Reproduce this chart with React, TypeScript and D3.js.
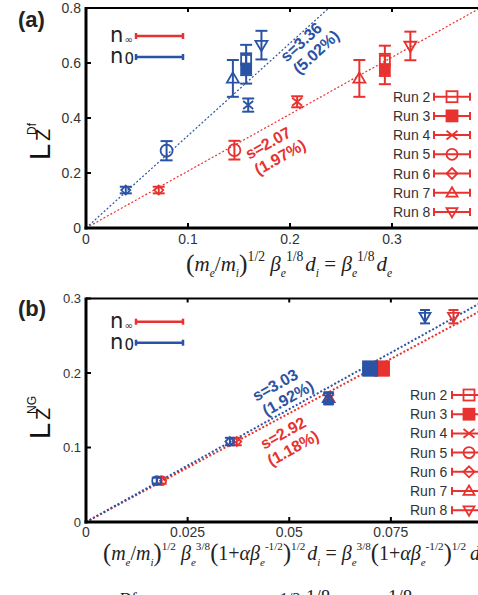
import React from "react";
import * as d3 from "d3";

const RED = "#e8322f";
const BLUE = "#2b53a5";
const INK = "#333";

const runLabels = ["Run 2", "Run 3", "Run 4", "Run 5", "Run 6", "Run 7", "Run 8"];
const runShapes = ["square", "filled", "cross", "circle", "diamond", "triUp", "triDown"];

// panel (a): L_Z^Df
const dfXTicks = [0, 0.1, 0.2, 0.3];
const dfXTickLabels = ["0", "0.1", "0.2", "0.3"];
const dfYTicks = [0, 0.2, 0.4, 0.6, 0.8];
const dfYTickLabels = ["0", "0.2", "0.4", "0.6", "0.8"];
const dfN0X = [0.157, 0.157, 0.159, 0.079, 0.039, 0.144, 0.172];
const dfN0Y = [0.611, 0.58, 0.447, 0.281, 0.138, 0.544, 0.665];
const dfN0Err = [0.055, 0.055, 0.024, 0.035, 0.012, 0.067, 0.052];
const dfNinfX = [0.293, 0.293, 0.207, 0.1455, 0.0713, 0.268, 0.318];
const dfNinfY = [0.608, 0.578, 0.459, 0.283, 0.138, 0.544, 0.662];
const dfNinfErr = [0.055, 0.055, 0.02, 0.034, 0.012, 0.067, 0.052];
const dfSlopeN0 = 3.36;
const dfSlopeNinf = 2.07;
const dfFitN0 = ["s=3.36", "(5.02%)"];
const dfFitNinf = ["s=2.07", "(1.97%)"];

// panel (b): L_Z^NG
const ngXTicks = [0, 0.025, 0.05, 0.075];
const ngXTickLabels = ["0", "0.025", "0.05", "0.075"];
const ngYTicks = [0, 0.1, 0.2, 0.3];
const ngYTickLabels = ["0", "0.1", "0.2", "0.3"];
const ngN0X = [0.0699, 0.0699, 0.0596, 0.0174, 0.0354, 0.0596, 0.0834];
const ngN0Y = [0.206, 0.206, 0.166, 0.0555, 0.108, 0.166, 0.2756];
const ngN0Err = [0.006, 0.006, 0.007, 0.004, 0.005, 0.008, 0.009];
const ngNinfX = [0.0728, 0.0728, 0.0598, 0.0186, 0.0371, 0.0598, 0.0904];
const ngNinfY = [0.206, 0.206, 0.166, 0.0555, 0.108, 0.166, 0.2756];
const ngNinfErr = [0.006, 0.006, 0.007, 0.004, 0.005, 0.008, 0.009];
const ngSlopeN0 = 3.03;
const ngSlopeNinf = 2.92;
const ngFitN0 = ["s=3.03", "(1.92%)"];
const ngFitNinf = ["s=2.92", "(1.18%)"];

function Marker({ shape, x, y, s, color }) {
  const h = s / 2;
  const st = { stroke: color, strokeWidth: 1.8, fill: "none" };
  if (shape === "square") return <rect x={x - h} y={y - h} width={s} height={s} {...st} />;
  if (shape === "filled") return <rect x={x - h} y={y - h} width={s} height={s} {...st} fill={color} />;
  if (shape === "cross")
    return <path d={`M${x - h},${y - h * 0.8}L${x + h},${y + h * 0.8}M${x - h},${y + h * 0.8}L${x + h},${y - h * 0.8}`} {...st} />;
  if (shape === "circle") return <circle cx={x} cy={y} r={h} {...st} />;
  if (shape === "diamond") return <path d={`M${x},${y - h}L${x + h},${y}L${x},${y + h}L${x - h},${y}Z`} {...st} />;
  if (shape === "triUp") return <path d={`M${x},${y - h}L${x + h},${y + h * 0.7}L${x - h},${y + h * 0.7}Z`} {...st} />;
  return <path d={`M${x},${y + h}L${x + h},${y - h * 0.7}L${x - h},${y - h * 0.7}Z`} {...st} />;
}

function Series({ xs, ys, errs, x, y, color, sizes, cap }) {
  return (
    <g>
      {xs.map((v, i) => {
        const cx = x(v), cy = y(ys[i]);
        const t = y(ys[i] + errs[i]), b = y(ys[i] - errs[i]);
        return (
          <g key={i} stroke={color} strokeWidth={2}>
            <line x1={cx} x2={cx} y1={t} y2={b} />
            <line x1={cx - cap / 2} x2={cx + cap / 2} y1={t} y2={t} />
            <line x1={cx - cap / 2} x2={cx + cap / 2} y1={b} y2={b} />
            <Marker shape={runShapes[i]} x={cx} y={cy} s={sizes[i]} color={color} />
          </g>
        );
      })}
    </g>
  );
}

function Fit({ slope, x, y, color, width }) {
  const [x0, x1] = x.domain();
  const yMax = y.domain()[1];
  const xe = Math.min(x1, yMax / slope);
  const line = d3.line().x((d) => x(d[0])).y((d) => y(d[1]));
  return (
    <path d={line([[x0, 0], [xe, slope * xe]])} stroke={color} strokeWidth={width} strokeDasharray="2 2" fill="none" />
  );
}

function FitLabel({ lines, c1, c2, angle, color }) {
  return (
    <g fill={color} fontFamily="Liberation Sans, Arial, sans-serif" fontWeight="bold" fontSize={16} textAnchor="middle">
      <text transform={`translate(${c1[0]},${c1[1]}) rotate(${angle})`} dy="0.35em">{lines[0]}</text>
      <text transform={`translate(${c2[0]},${c2[1]}) rotate(${angle})`} dy="0.35em">{lines[1]}</text>
    </g>
  );
}

function Frame({ x, y, xTicks, xLabels, yTicks, yLabels, yFont, xLabelY }) {
  const [xl, xr] = x.range();
  const [yb, yt] = y.range();
  return (
    <g>
      <line x1={xl} x2={xr} y1={yt} y2={yt} stroke="#000" strokeWidth={2} />
      <line x1={xl} x2={xl} y1={yt - 1} y2={yb + 1.5} stroke="#000" strokeWidth={3} />
      <line x1={xl - 1.5} x2={xr} y1={yb} y2={yb} stroke="#000" strokeWidth={3} />
      {xTicks.map((t, i) => (
        <g key={i}>
          <line x1={x(t)} x2={x(t)} y1={yb} y2={yb - 5} stroke="#000" strokeWidth={2} />
          <line x1={x(t)} x2={x(t)} y1={yt} y2={yt + 4} stroke="#000" strokeWidth={2} />
          <text x={x(t)} y={xLabelY} textAnchor="middle" fontSize={14} fill={INK}>{xLabels[i]}</text>
        </g>
      ))}
      {yTicks.map((t, i) => (
        <g key={i}>
          <line x1={xl} x2={xl + 5} y1={y(t)} y2={y(t)} stroke="#000" strokeWidth={2} />
          <text x={xl - 5} y={y(t)} dy="0.35em" textAnchor="end" fontSize={yFont} fill={INK}>{yLabels[i]}</text>
        </g>
      ))}
    </g>
  );
}

function NLegend({ y0 }) {
  const rows = [
    { c: RED, sub: "\u221e", fs: 10, y: y0 },
    { c: BLUE, sub: "0", fs: 15, y: y0 + 21 },
  ];
  return (
    <g fontFamily="DejaVu Sans, sans-serif">
      {rows.map((r, i) => (
        <g key={i}>
          <text x={110} y={r.y + 6} fontSize={21} fill="#222">n</text>
          <text x={124.5} y={r.y + 7} fontSize={r.fs} fill="#222">{r.sub}</text>
          <g stroke={r.c} strokeWidth={2.5}>
            <line x1={136} x2={183} y1={r.y} y2={r.y} />
            <line x1={136} x2={136} y1={r.y - 3} y2={r.y + 3} />
            <line x1={183} x2={183} y1={r.y - 3} y2={r.y + 3} />
          </g>
        </g>
      ))}
    </g>
  );
}

function RunLegend({ tx, lx0, lx1, y0 }) {
  const mc = (lx0 + lx1) / 2;
  return (
    <g>
      {runLabels.map((r, i) => {
        const yy = y0 + i * 19.2;
        return (
          <g key={i}>
            <text x={tx} y={yy + 5} fontSize={14} fill={INK}>{r}</text>
            <g stroke={RED} strokeWidth={2}>
              <line x1={lx0} x2={lx1} y1={yy} y2={yy} />
              <line x1={lx0} x2={lx0} y1={yy - 4} y2={yy + 4} />
              <line x1={lx1} x2={lx1} y1={yy - 4} y2={yy + 4} />
            </g>
            <Marker shape={runShapes[i]} x={mc} y={yy} s={11} color={RED} />
          </g>
        );
      })}
    </g>
  );
}

function MathLabel({ x, y, size, sup, segs }) {
  return (
    <text x={x} y={y} fontFamily="Liberation Serif, Times New Roman, serif" fontSize={size} fill="#222">
      {segs.map((s, i) => {
        const fs = s.sh === "sub" ? size * 0.55 : s.sh === "sup" ? size * sup : s.big ? size * 1.22 : size;
        const yy = y + (s.sh === "sub" ? size * 0.28 : s.sh === "sup" ? -size * 0.5 : s.big ? size * 0.05 : 0);
        return (
          <tspan key={i} y={yy} fontSize={fs} fontStyle={s.it ? "italic" : "normal"} dx={s.dx || 0}>
            {s.t}
          </tspan>
        );
      })}
    </text>
  );
}

const I = (t, sh, dx) => ({ t, it: true, sh, dx });
const N = (t, sh, dx) => ({ t, it: false, sh, dx });
const B = (t) => ({ t, big: true });

const labelA = [
  B("("), I("m"), I("e", "sub"), N("/"), I("m"), I("i", "sub"), B(")"), N("1/2", "sup"),
  I(" \u03b2"), I("e", "sub"), N("1/8", "sup"), I("d", undefined, 2), I("i", "sub"),
  N(" = "), I("\u03b2"), I("e", "sub"), N("1/8", "sup"), I("d", undefined, 2), I("e", "sub"),
];
const labelB = [
  B("("), I("m"), I("e", "sub"), N("/"), I("m"), I("i", "sub"), B(")"), N("1/2", "sup"),
  I(" \u03b2"), I("e", "sub"), N("3/8", "sup"), B("("), N("1+"), I("\u03b1\u03b2"), I("e", "sub"),
  N("-1/2", "sup"), B(")"), N("1/2", "sup"), I("d", undefined, 2), I("i", "sub"),
  N(" ="), I(" \u03b2"), I("e", "sub"), N("3/8", "sup"), B("("), N("1+"), I("\u03b1\u03b2"), I("e", "sub"),
  N("-1/2", "sup"), B(")"), N("1/2", "sup"), I("d", undefined, 4), I("e", "sub"),
];

function YLabel({ base, sup }) {
  return (
    <g fontFamily="Liberation Sans, Arial, sans-serif" fill="#111">
      <text transform={`translate(50,${base}) rotate(-90)`} fontSize={29}>L</text>
      <text transform={`translate(50,${base - 19}) rotate(-90)`} fontSize={20}>Z</text>
      <text transform={`translate(36,${base - 25}) rotate(-90)`} fontSize={12}>{sup}</text>
    </g>
  );
}

export default function App() {
  const xA = d3.scaleLinear().domain([0, 0.4]).range([86, 494]);
  const yA = d3.scaleLinear().domain([0, 0.8]).range([228, 8]);
  const xB = d3.scaleLinear().domain([0, 0.1]).range([86, 492.5]);
  const yB = d3.scaleLinear().domain([0, 0.3]).range([522, 298.5]);
  const sizesA = [10, 10, 10, 12, 9, 12, 12];
  const sizesB = [14, 14, 10, 9, 9, 11, 11];

  return (
    <svg width={478} height={595} style={{ position: "absolute", left: 0, top: 0, background: "#fff" }}
      fontFamily="Liberation Sans, Arial, sans-serif">
      <rect width={478} height={595} fill="#fff" />

      {/* (a) */}
      <text x={18} y={27} fontSize={22} fontWeight="bold" fill="#222">(a)</text>
      <YLabel base={160} sup="Df" />
      <Fit slope={dfSlopeN0} x={xA} y={yA} color={BLUE} width={1.2} />
      <Fit slope={dfSlopeNinf} x={xA} y={yA} color={RED} width={1.2} />
      <Series xs={dfN0X} ys={dfN0Y} errs={dfN0Err} x={xA} y={yA} color={BLUE} sizes={sizesA} cap={12} />
      <Series xs={dfNinfX} ys={dfNinfY} errs={dfNinfErr} x={xA} y={yA} color={RED} sizes={sizesA} cap={12} />
      <Frame x={xA} y={yA} xTicks={dfXTicks} xLabels={dfXTickLabels} yTicks={dfYTicks} yLabels={dfYTickLabels} yFont={14} xLabelY={244} />
      <FitLabel lines={dfFitN0} c1={[301, 42]} c2={[316, 52]} angle={-42.5} color={BLUE} />
      <FitLabel lines={dfFitNinf} c1={[268, 143]} c2={[280, 157]} angle={-29} color={RED} />
      <NLegend y0={36} />
      <RunLegend tx={393} lx0={434} lx1={470} y0={96.7} />
      <MathLabel x={186} y={271} size={21} sup={0.65} segs={labelA} />

      {/* (b) */}
      <text x={18} y={316} fontSize={22} fontWeight="bold" fill="#222">(b)</text>
      <YLabel base={439} sup="NG" />
      <Fit slope={ngSlopeNinf} x={xB} y={yB} color={RED} width={2} />
      <Fit slope={ngSlopeN0} x={xB} y={yB} color={BLUE} width={2} />
      <Series xs={ngNinfX} ys={ngNinfY} errs={ngNinfErr} x={xB} y={yB} color={RED} sizes={sizesB} cap={10} />
      <Series xs={ngN0X} ys={ngN0Y} errs={ngN0Err} x={xB} y={yB} color={BLUE} sizes={sizesB} cap={10} />
      <Frame x={xB} y={yB} xTicks={ngXTicks} xLabels={ngXTickLabels} yTicks={ngYTicks} yLabels={ngYTickLabels} yFont={13} xLabelY={537} />
      <FitLabel lines={ngFitN0} c1={[275, 385]} c2={[288, 398]} angle={-29} color={BLUE} />
      <FitLabel lines={ngFitNinf} c1={[283, 433]} c2={[293, 448]} angle={-29} color={RED} />
      <NLegend y0={321.7} />
      <RunLegend tx={410} lx0={452} lx1={486} y0={395} />
      <MathLabel x={103} y={560} size={20} sup={0.56} segs={labelB} />

      {/* caption cut at the page bottom */}
      <g fontFamily="Liberation Serif, Times New Roman, serif" fill="#222">
        <text x={120} y={604} fontSize={16}>Df</text>
        <text x={280} y={604} fontSize={16}>1/2</text>
        <text x={306} y={603} fontSize={19}>1/8</text>
        <text x={388} y={603} fontSize={19}>1/8</text>
      </g>
    </svg>
  );
}
